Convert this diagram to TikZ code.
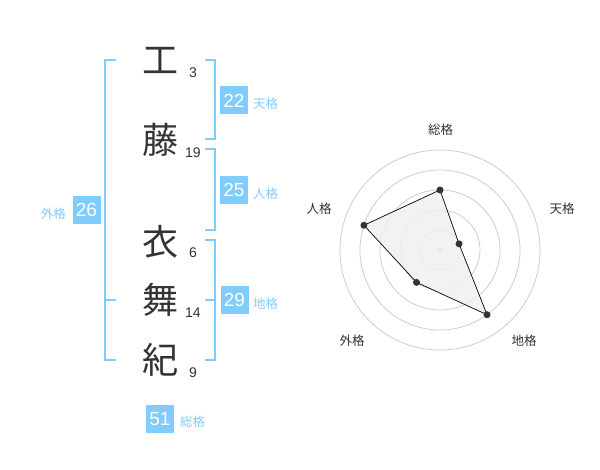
\documentclass[tikz,border=0pt]{standalone}
\usepackage{fontspec}
\setmainfont{Liberation Sans}
\newfontfamily\jp{Noto Sans CJK JP}
\definecolor{kblue}{RGB}{128,204,252}
\definecolor{kdark}{RGB}{51,51,51}
\definecolor{kgrid}{RGB}{204,204,204}
\definecolor{kfill}{RGB}{240,240,240}
\begin{document}
\begin{tikzpicture}[x=1pt,y=1pt,
  kanji/.style={font=\jp\fontsize{36}{36}\selectfont, text=kdark, inner sep=0pt},
  stroke/.style={font=\fontsize{14}{14}\selectfont, text=kdark, inner sep=0pt},
  numbox/.style={fill=kblue, text=white, minimum width=28pt, minimum height=28pt, inner sep=0pt, font=\fontsize{19}{19}\selectfont},
  kaku/.style={font=\jp\fontsize{12.5}{12.5}\selectfont, text=kblue, inner sep=0pt},
  radlabel/.style={font=\jp\fontsize{12.5}{12.5}\selectfont, text=kdark, inner sep=0pt},
  bracket/.style={draw=kblue, line width=2pt},
  vdot/.style={circle, fill=kdark, minimum size=7pt, inner sep=0pt},
]
\useasboundingbox (0,0) rectangle (600,470);
% name characters
\node[kanji] (c1) at (160,410) {工};
\node[kanji] (c2) at (160,330) {藤};
\node[kanji] (c3) at (160,228) {衣};
\node[kanji] (c4) at (160,170) {舞};
\node[kanji] (c5) at (160,110) {紀};
\node[stroke] (s1) at (193,397) {3};
\node[stroke] (s2) at (193,317) {19};
\node[stroke] (s3) at (193,217) {6};
\node[stroke] (s4) at (193,157) {14};
\node[stroke] (s5) at (193,97) {9};
% brackets
\draw[bracket] (116,410) -- (105,410) -- (105,110) -- (116,110);
\draw[bracket] (105,170) -- (116,170);
\draw[bracket] (205,410) -- (215,410) -- (215,331) -- (205,331);
\draw[bracket] (205,321) -- (215,321) -- (215,240) -- (205,240);
\draw[bracket] (205,230) -- (215,230) -- (215,110) -- (205,110);
\draw[bracket] (205,170) -- (215,170);
% boxes
\node[numbox] (ten) at (234,369.5) {22};
\node[kaku, anchor=west] (tenl) at (253,366) {天格};
\node[numbox] (jin) at (234,280) {25};
\node[kaku, anchor=west] (jinl) at (253,276) {人格};
\node[numbox] (gai) at (86.5,260) {26};
\node[kaku, anchor=east] (gail) at (66,256) {外格};
\node[numbox] (chi) at (234.5,170) {29};
\node[kaku, anchor=west] (chil) at (253,166) {地格};
\node[numbox] (sou) at (160,51) {51};
\node[kaku, anchor=west] (soul) at (180,48) {総格};
% radar chart
\begin{scope}[shift={(440,220)}]
  \foreach \r in {20,40,60,80,100} \draw[kgrid, line width=0.8pt] (0,0) circle (\r);
  \fill[kgrid] (0,0) circle (3.5);
  \coordinate (pS) at (90:60);
  \coordinate (pT) at (18:20);
  \coordinate (pC) at (-54:80);
  \coordinate (pG) at (-126:40);
  \coordinate (pJ) at (162:80);
  \filldraw[fill=kfill, fill opacity=0.85, draw=black, line width=0.7pt] (pS) -- (pT) -- (pC) -- (pG) -- (pJ) -- cycle;
  \foreach \p in {pS,pT,pC,pG,pJ} \node[vdot] at (\p) {};
  \node[radlabel] (lS) at (0.5,120) {総格};
  \node[radlabel] (lT) at (122,41) {天格};
  \node[radlabel] (lC) at (84,-91) {地格};
  \node[radlabel] (lG) at (-88,-91) {外格};
  \node[radlabel] (lJ) at (-121,41) {人格};
\end{scope}
\end{tikzpicture}
\end{document}
